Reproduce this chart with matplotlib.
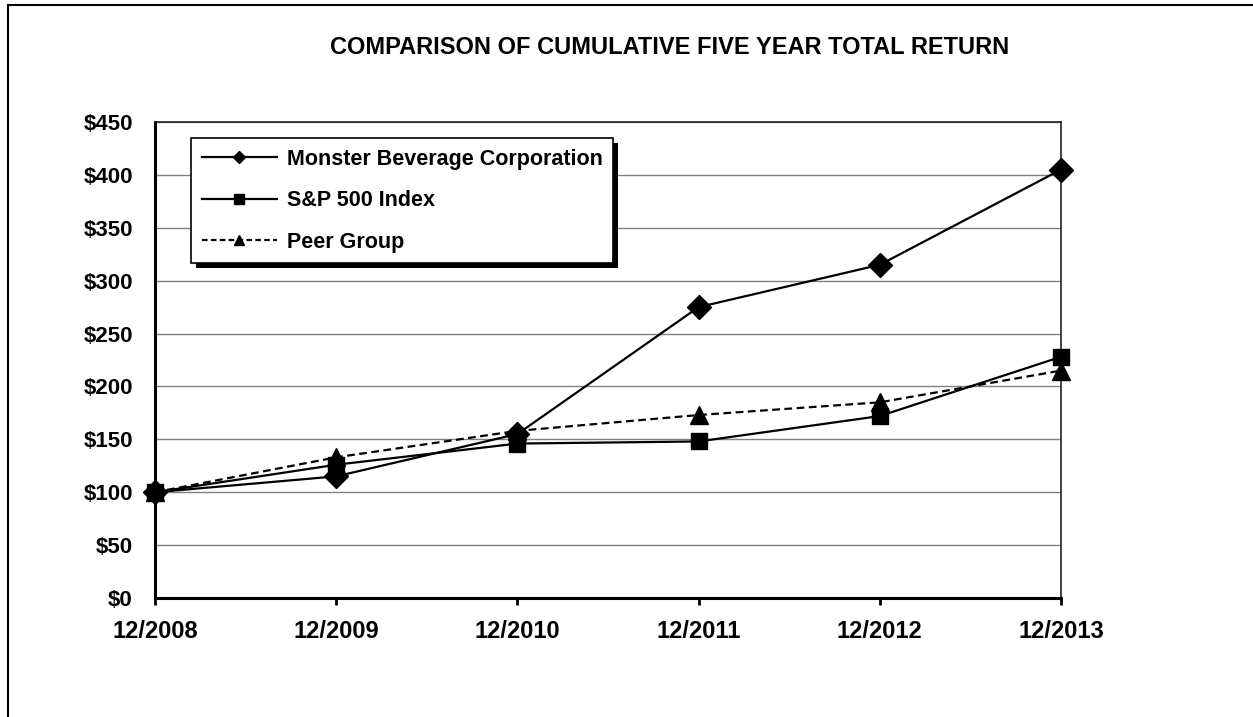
import matplotlib
matplotlib.use("Agg")
import matplotlib.pyplot as plt
from matplotlib.lines import Line2D
from matplotlib.patches import Rectangle
from matplotlib.transforms import IdentityTransform

plt.rcParams['font.family'] = ['Liberation Sans', 'DejaVu Sans']

periods = ["12/2008", "12/2009", "12/2010", "12/2011", "12/2012", "12/2013"]
monster = [100, 115, 155, 275, 315, 405]
sp500 = [100, 126, 146, 148, 172, 228]
peer = [100, 133, 158, 173, 185, 215]
yticks = [0, 50, 100, 150, 200, 250, 300, 350, 400, 450]
ytick_labels = ["$" + str(v) for v in yticks]
series_names = ["Monster Beverage Corporation", "S&P 500 Index", "Peer Group"]
title = "COMPARISON OF CUMULATIVE FIVE YEAR TOTAL RETURN"

W, H = 1253, 717
fig = plt.figure(figsize=(W / 100, H / 100), dpi=100)
ax = fig.add_axes([155 / W, 1 - 598 / H, (1061 - 155) / W, (598 - 122) / H])

x = list(range(len(periods)))
ax.plot(x, monster, color='black', lw=1.6, marker='D', markersize=12, zorder=3, clip_on=False)
ax.plot(x, sp500, color='black', lw=1.6, marker='s', markersize=12, zorder=3, clip_on=False)
ax.plot(x, peer, color='black', lw=1.6, ls=(0, (3.5, 2)), marker='^', markersize=13, zorder=3, clip_on=False)

ax.set_xlim(0, len(periods) - 1)
ax.set_ylim(0, 450)
ax.set_yticks(yticks)
ax.set_yticklabels(ytick_labels, fontsize=16, fontweight='bold')
ax.set_xticks(x)
ax.set_xticklabels(periods, fontsize=17, fontweight='bold')
ax.tick_params(axis='y', length=0, pad=16)
ax.tick_params(axis='x', direction='out', length=5, width=2, pad=11)
ax.yaxis.grid(True, color='#808080', lw=1)
ax.set_axisbelow(True)
for s in ['left', 'bottom']:
    ax.spines[s].set_linewidth(2.2)
    ax.spines[s].set_color('black')
for s in ['top', 'right']:
    ax.spines[s].set_linewidth(1.2)
    ax.spines[s].set_color('#222222')

handles = [
    Line2D([], [], color='black', lw=1.6, marker='D', markersize=6),
    Line2D([], [], color='black', lw=1.6, marker='s', markersize=7),
    Line2D([], [], color='black', lw=1.6, ls=(0, (2.5, 1.5)), marker='^', markersize=7),
]
leg = ax.legend(handles, series_names, loc='upper left',
                bbox_to_anchor=(191 / W, 1 - 138 / H), bbox_transform=fig.transFigure,
                borderaxespad=0, fancybox=False, framealpha=1, edgecolor='black',
                prop={'weight': 'bold', 'size': 15.5}, handlelength=3.5,
                labelspacing=0.95, borderpad=0.5, handletextpad=0.45)
leg.get_frame().set_linewidth(1.2)
leg.set_zorder(5)

fig.text(670 / W, 1 - 47 / H, title, ha='center', va='center', fontsize=17, fontweight='bold')

# outer frame (top and left edges)
fig.add_artist(Line2D([8 / W, 1], [1 - 5 / H, 1 - 5 / H], color='black', lw=1.5, transform=fig.transFigure))
fig.add_artist(Line2D([8 / W, 8 / W], [0, 1 - 5 / H], color='black', lw=1.5, transform=fig.transFigure))

fig.canvas.draw()
bb = leg.get_window_extent()
shadow = Rectangle((bb.x0 + 5, bb.y0 - 5), bb.width, bb.height, transform=IdentityTransform(),
                   facecolor='black', edgecolor='none', zorder=4.9, clip_on=False)
ax.add_artist(shadow)

fig.savefig("out.png", dpi=100)
